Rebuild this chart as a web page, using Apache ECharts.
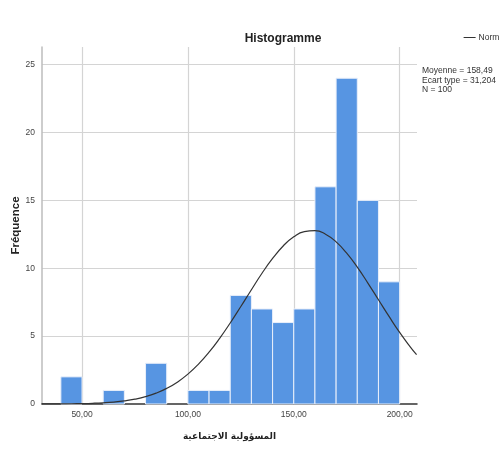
<!DOCTYPE html>
<html>
<head>
<meta charset="utf-8">
<script src="https://cdn.jsdelivr.net/npm/echarts@6/dist/echarts.min.js"></script>
<style>html,body{margin:0;padding:0;background:#fff}#c{width:499px;height:450px}</style>
</head>
<body>
<div id="c"></div>
<script>
// Histogram bins (lower edge, upper edge) and counts
const binStarts = [40, 50, 60, 70, 80, 90, 100, 110, 120, 130, 140, 150, 160, 170, 180, 190];
const binEnds   = [50, 60, 70, 80, 90, 100, 110, 120, 130, 140, 150, 160, 170, 180, 190, 200];
const counts    = [2, 0, 1, 0, 3, 0, 1, 1, 8, 7, 6, 7, 16, 24, 15, 9];
// Normal curve, points
const curveX = [31, 35, 40, 45, 50, 55, 60, 65, 70, 75, 80, 85, 90, 95, 100, 105, 110, 115, 120, 125, 130, 135, 140, 145, 150, 155, 160, 165, 170, 175, 180, 185, 190, 195, 200, 205, 208];
const curveY = [0.003, 0.005, 0.01, 0.017, 0.03, 0.052, 0.088, 0.144, 0.23, 0.357, 0.54, 0.8, 1.15, 1.61, 2.2, 2.94, 3.82, 4.84, 5.97, 7.18, 8.42, 9.63, 10.72, 11.64, 12.32, 12.7, 12.77, 12.51, 11.94, 11.11, 10.08, 8.91, 7.68, 6.45, 5.27, 4.21, 3.63];
const statsLines = ['Moyenne = 158,49', 'Ecart type = 31,204', 'N = 100'];
const titleText = 'Histogramme';
const xName = 'المسؤولية الاجتماعية';
const yName = 'Fréquence';

const barData = binStarts.map((s, i) => [s, binEnds[i], counts[i]]);
const curveData = curveX.map((x, i) => [x, curveY[i]]);

const chart = echarts.init(document.getElementById('c'), null, {renderer: 'canvas'});
const font = 'Liberation Sans, Arial, sans-serif';
chart.setOption({
  animation: false,
  backgroundColor: '#fff',
  textStyle: {fontFamily: font},
  title: {
    text: titleText, left: 278, top: 28, textAlign: 'center',
    textStyle: {fontSize: 12, fontWeight: 'bold', color: '#222', fontFamily: font}
  },
  legend: {
    right: -12, top: 28, itemWidth: 12, itemHeight: 8, itemGap: 2,
    icon: 'path://M0,4 L12,4 L12,5 L0,5 Z',
    textStyle: {fontSize: 8.5, color: '#333', padding: [0, 0, 0, -2]},
    data: [{name: 'Normal', itemStyle: {color: '#333'}}]
  },
  graphic: [{
    type: 'text', left: 422, top: 66,
    style: {text: statsLines.join('\n'), fontSize: 8.5, lineHeight: 9.5, fill: '#333', fontFamily: font}
  }],
  grid: {left: 42, right: 82, top: 47, bottom: 46, outerBoundsMode: 'none', containLabel: false},
  xAxis: {
    type: 'value', min: 31.1, max: 208.2, splitNumber: 4,
    name: xName, nameLocation: 'middle', nameGap: 28, nameMoveOverlap: false,
    nameTextStyle: {fontSize: 9, fontWeight: 'bold', color: '#222', fontFamily: 'DejaVu Sans'},
    axisLine: {show: true, lineStyle: {color: '#333', width: 1.5}},
    axisTick: {show: false},
    axisLabel: {showMinLabel: false, showMaxLabel: false, fontSize: 8.5, color: '#444', margin: 6,
      formatter: v => v.toFixed(2).replace('.', ',')},
    splitLine: {show: true, showMinLine: false, showMaxLine: false, lineStyle: {color: '#d4d4d4', width: 1.2}}
  },
  yAxis: {
    type: 'value', min: 0, max: 26.3, splitNumber: 5,
    name: yName, nameLocation: 'middle', nameGap: 20, nameRotate: 90, nameMoveOverlap: false,
    nameTextStyle: {fontSize: 11.5, fontWeight: 'bold', color: '#222'},
    axisLine: {show: true, lineStyle: {color: '#bdbdbd', width: 1.5}},
    axisTick: {show: false},
    axisLabel: {showMaxLabel: false, fontSize: 8.5, color: '#444', margin: 7},
    splitLine: {show: true, showMinLine: false, showMaxLine: false, lineStyle: {color: '#d4d4d4', width: 1.2}}
  },
  series: [{
    type: 'custom', name: 'Histogram', data: barData, z: 2,
    renderItem: (params, api) => {
      const c = api.value(2);
      if (!c) return null;
      const p0 = api.coord([api.value(0), c]);
      const p1 = api.coord([api.value(1), 0]);
      return {type: 'rect', shape: {x: p0[0], y: p0[1], width: p1[0] - p0[0], height: p1[1] - p0[1]},
        style: {fill: '#5795e2', stroke: '#e9effa', lineWidth: 1}};
    },
    encode: {x: [0, 1], y: 2}
  }, {
    type: 'line', name: 'Normal', data: curveData, smooth: true, showSymbol: false, z: 3,
    lineStyle: {color: '#333', width: 1.2}, itemStyle: {color: '#333'}
  }]
});
</script>
</body>
</html>
